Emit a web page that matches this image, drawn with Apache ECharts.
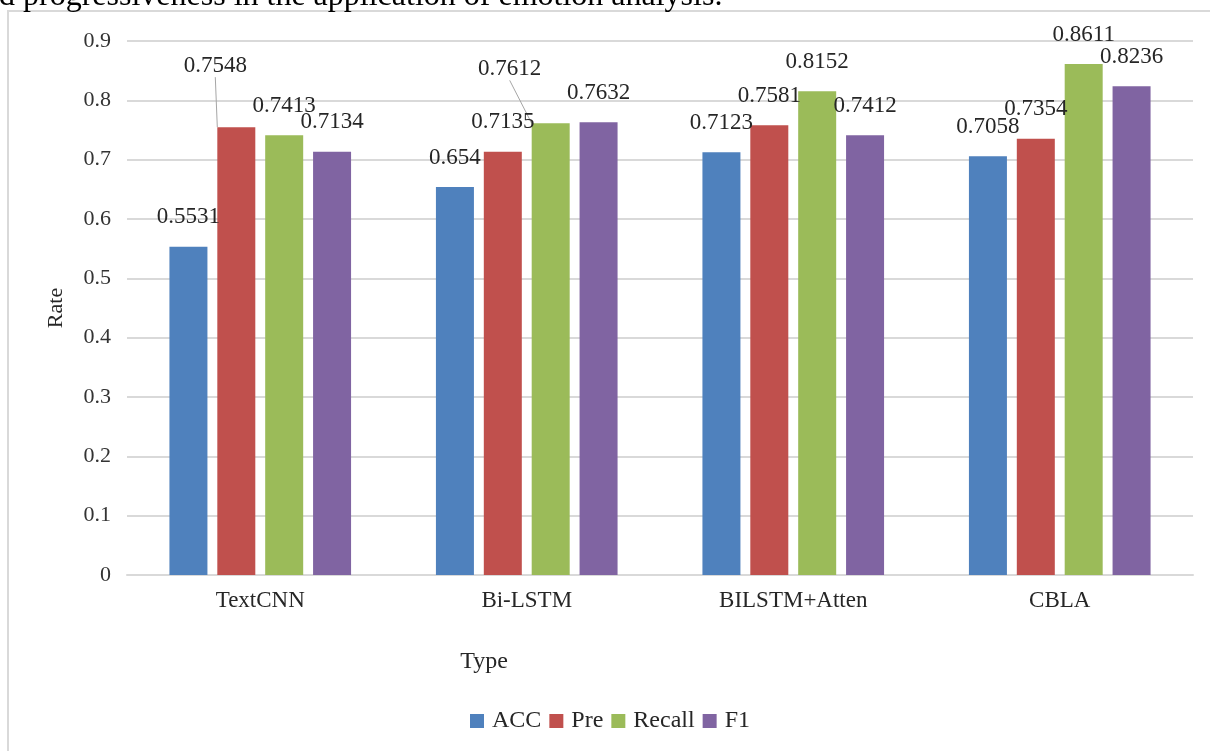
<!DOCTYPE html>
<html>
<head>
<meta charset="utf-8">
<script src="https://cdn.jsdelivr.net/npm/echarts@6/dist/echarts.min.js"></script>
<style>
  html, body { margin: 0; padding: 0; background: #ffffff; }
  #chart { width: 1210px; height: 751px; }
</style>
</head>
<body>
<div id="chart"></div>
<script>
// Model names along the x axis
const categories = ['TextCNN', 'Bi-LSTM', 'BILSTM+Atten', 'CBLA'];

// Metric values per model
const accValues = [0.5531, 0.654, 0.7123, 0.7058];
const preValues = [0.7548, 0.7135, 0.7581, 0.7354];
const recallValues = [0.7413, 0.7612, 0.8152, 0.8611];
const f1Values = [0.7134, 0.7632, 0.7412, 0.8236];

// Y axis ticks
const yTicks = { min: 0, max: 0.9, step: 0.1 };

const metrics = [
  { name: 'ACC', values: accValues, color: '#4F81BD' },
  { name: 'Pre', values: preValues, color: '#C0504D' },
  { name: 'Recall', values: recallValues, color: '#9BBB59' },
  { name: 'F1', values: f1Values, color: '#8064A2' }
];

// Labels that were dragged away from their bar and carry a leader line
const labelShift = { 'Pre-0': [-21, -32], 'Recall-1': [-41, -25] };

const serif = '"Liberation Serif", "Times New Roman", serif';

const chart = echarts.init(document.getElementById('chart'), null, { renderer: 'canvas' });

const series = metrics.map(m => ({
  name: m.name,
  type: 'bar',
  barWidth: 38,
  barGap: '26%',
  itemStyle: { color: m.color },
  data: m.values.map((v, i) => ({
    value: v,
    labelLine: { show: !!labelShift[m.name + '-' + i] }
  })),
  label: {
    show: true,
    position: 'top',
    distance: 18,
    fontFamily: serif,
    fontSize: 23,
    lineHeight: 23,
    color: '#262626'
  },
  labelLine: {
    show: false,
    lineStyle: { color: '#a6a6a6', width: 1 }
  },
  labelLayout: function (p) {
    const s = labelShift[m.name + '-' + p.dataIndex];
    return s ? { dx: s[0], dy: s[1] } : {};
  }
}));

chart.setOption({
  animation: false,
  backgroundColor: '#ffffff',
  textStyle: { fontFamily: serif },
  graphic: [
    {
      type: 'rect',
      z: -10,
      shape: { x: 8, y: 11, width: 1400, height: 1000 },
      style: { fill: 'none', stroke: '#d9d9d9', lineWidth: 2 }
    },
    {
      // last line of the paragraph above the figure, running off the top edge
      type: 'text',
      x: -1,
      y: -19,
      style: {
        text: 'd progressiveness in the application of emotion analysis.',
        font: '32px ' + serif,
        fill: '#000000',
        verticalAlign: 'top'
      }
    },
    {
      type: 'text',
      x: 484,
      y: 662,
      style: {
        text: 'Type',
        font: '24px ' + serif,
        fill: '#262626',
        align: 'center',
        verticalAlign: 'middle'
      }
    }
  ],
  grid: { left: 127, right: 17, top: 41, bottom: 176, containLabel: false },
  legend: {
    data: metrics.map(m => m.name),
    left: 465,
    top: 704,
    itemWidth: 14,
    itemHeight: 14,
    itemGap: 8,
    icon: 'rect',
    textStyle: { fontFamily: serif, fontSize: 24, color: '#262626', padding: [0, 0, 0, 3] }
  },
  xAxis: {
    type: 'category',
    data: categories,
    axisLine: { show: true, lineStyle: { color: '#d9d9d9', width: 2 } },
    axisTick: { show: false },
    axisLabel: { fontFamily: serif, fontSize: 23, color: '#262626', margin: 14 }
  },
  yAxis: {
    type: 'value',
    min: yTicks.min,
    max: yTicks.max,
    interval: yTicks.step,
    name: 'Rate',
    nameLocation: 'middle',
    nameRotate: 90,
    nameGap: 60,
    nameTextStyle: { fontFamily: serif, fontSize: 22, color: '#262626' },
    axisLine: { show: false },
    axisTick: { show: false },
    axisLabel: { fontFamily: serif, fontSize: 22, color: '#333333', margin: 16 },
    splitLine: { lineStyle: { color: '#d9d9d9', width: 2 } }
  },
  series: series
});
</script>
</body>
</html>
